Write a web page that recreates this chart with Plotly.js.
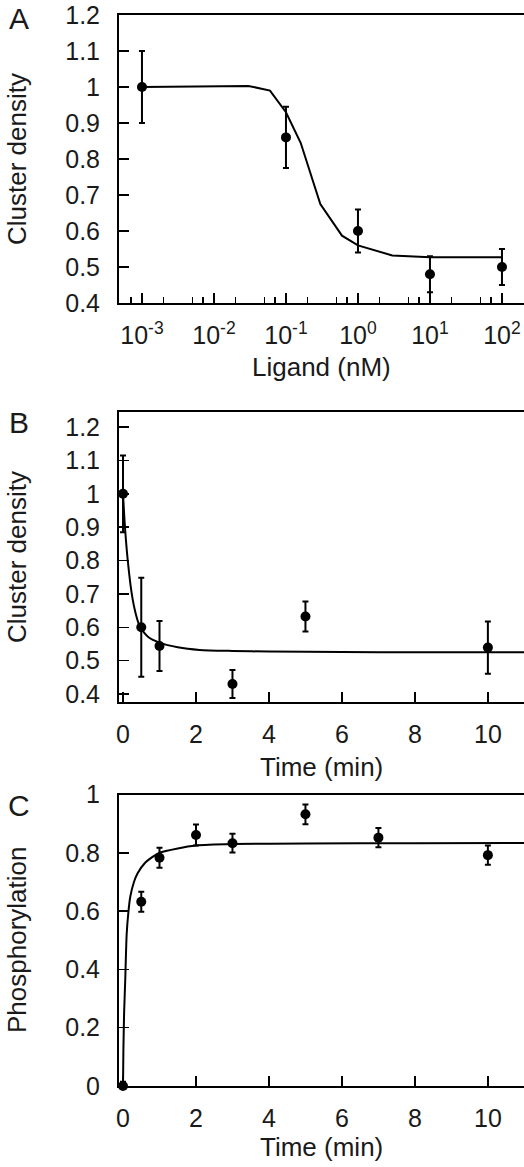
<!DOCTYPE html>
<html>
<head>
<meta charset="utf-8">
<script src="https://cdn.plot.ly/plotly-3.0.1.min.js"></script>
<style>
html,body{margin:0;padding:0;background:#fff;overflow:hidden;}
#chart{width:524px;height:1167px;}
</style>
</head>
<body>
<div id="chart"></div>
<script>
// ---------- Panel A: cluster density vs ligand ----------
const ligandConc = [0.001, 0.1, 1, 10, 100];
const densityA = [1.0, 0.86, 0.60, 0.48, 0.50];
const densityAErr = [0.10, 0.085, 0.06, 0.05, 0.05];
const fitAConc = [0.001, 0.03, 0.06, 0.1, 0.16, 0.3, 0.6, 1, 3, 10, 100];
const fitADensity = [1.0, 1.003, 0.99, 0.93, 0.845, 0.675, 0.587, 0.56, 0.532, 0.527, 0.527];
const ligandTickVals = [0.001, 0.01, 0.1, 1, 10, 100];
const ligandTickText = ['10<sup>-3</sup>', '10<sup>-2</sup>', '10<sup>-1</sup>', '10<sup>0</sup>', '10<sup>1</sup>', '10<sup>2</sup>'];
const ligandMinorTicks = [0.0007, 0.002, 0.005, 0.007, 0.02, 0.05, 0.07, 0.2, 0.5, 0.7, 2, 5, 7, 20, 50, 70];
const densityTicks = [0.4, 0.5, 0.6, 0.7, 0.8, 0.9, 1, 1.1, 1.2];
const densityTickText = ['0.4', '0.5', '0.6', '0.7', '0.8', '0.9', '1', '1.1', '1.2'];

// ---------- Panel B: cluster density vs time ----------
const timeB = [0, 0.5, 1, 3, 5, 10];
const densityB = [1.0, 0.60, 0.544, 0.43, 0.632, 0.539];
const densityBErr = [0.115, 0.148, 0.075, 0.042, 0.045, 0.078];
const fitBTime = [0, 0.03, 0.06, 0.13, 0.24, 0.35, 0.47, 0.7, 1.0, 1.5, 2.1, 3, 4, 6, 8, 11];
const fitBDensity = [1.0, 0.94, 0.89, 0.80, 0.70, 0.64, 0.60, 0.57, 0.554, 0.54, 0.532, 0.529, 0.527, 0.526, 0.525, 0.525];

// ---------- Panel C: phosphorylation vs time ----------
const timeC = [0, 0.5, 1, 2, 3, 5, 7, 10];
const phosC = [0.0, 0.632, 0.783, 0.861, 0.833, 0.932, 0.852, 0.792];
const phosCErr = [0.015, 0.034, 0.034, 0.036, 0.032, 0.034, 0.033, 0.033];
const fitCTime = [0, 0.01, 0.03, 0.06, 0.1, 0.15, 0.2, 0.3, 0.4, 0.6, 0.8, 1.0, 1.5, 2, 3, 5, 8, 11];
const fitCPhos = [0, 0.12, 0.25, 0.36, 0.52, 0.60, 0.65, 0.70, 0.73, 0.765, 0.785, 0.80, 0.815, 0.825, 0.83, 0.832, 0.833, 0.834];
const phosTicks = [0, 0.2, 0.4, 0.6, 0.8, 1];
const phosTickText = ['0', '0.2', '0.4', '0.6', '0.8', '1'];

const timeTicks = [0, 2, 4, 6, 8, 10];

const W = 524, H = 1167;
const FONT = 'Liberation Sans, Arial, sans-serif';
const TXT = '#1a1a1a';
const px = v => v / W;
const py = v => 1 - v / H;

function pts(x, y, err, xa, ya) {
  return {
    x: x, y: y, xaxis: xa, yaxis: ya, type: 'scatter', mode: 'markers',
    marker: {color: '#000', size: 10},
    error_y: {type: 'data', array: err, visible: true, color: '#000', thickness: 2, width: 3},
    cliponaxis: false, hoverinfo: 'skip'
  };
}
function fit(x, y, xa, ya, shape) {
  return {
    x: x, y: y, xaxis: xa, yaxis: ya, type: 'scatter', mode: 'lines',
    line: {color: '#000', width: 2, shape: shape, smoothing: 0.6}, hoverinfo: 'skip'
  };
}

const data = [
  fit(fitAConc, fitADensity, 'x', 'y', 'linear'),
  pts(ligandConc, densityA, densityAErr, 'x', 'y'),
  fit(fitBTime, fitBDensity, 'x2', 'y2', 'spline'),
  pts(timeB, densityB, densityBErr, 'x2', 'y2'),
  fit(fitCTime, fitCPhos, 'x3', 'y3', 'spline'),
  pts(timeC, phosC, phosCErr, 'x3', 'y3')
];

const tickFont = {family: FONT, size: 25, color: TXT};
const axBase = {
  showgrid: false, zeroline: false, showline: true, linecolor: '#000', linewidth: 2,
  ticks: 'inside', tickcolor: '#000', tickwidth: 1.5, ticklen: 10,
  tickfont: tickFont, fixedrange: true, ticklabeloverflow: 'allow'
};

const layout = {
  width: W, height: H,
  margin: {l: 0, r: 0, t: 0, b: 0},
  paper_bgcolor: '#fff', plot_bgcolor: '#fff',
  showlegend: false,
  xaxis: Object.assign({}, axBase, {
    type: 'log', range: [-3.319, 2.306], domain: [px(119), 1], anchor: 'y',
    tickmode: 'array', tickvals: ligandTickVals, ticktext: ligandTickText,
    mirror: true, ticklabelstandoff: 9,
    minor: {tickmode: 'array', tickvals: ligandMinorTicks, ticks: 'inside', ticklen: 6, tickwidth: 1.5, tickcolor: '#000'}
  }),
  yaxis: Object.assign({}, axBase, {
    range: [0.4, 1.2], domain: [py(303), py(15)], anchor: 'x',
    tickmode: 'array', tickvals: densityTicks, ticktext: densityTickText, ticklabelstandoff: 12
  }),
  xaxis2: Object.assign({}, axBase, {
    range: [-0.11, 10.99], domain: [px(119), 1], anchor: 'y2',
    tickmode: 'array', tickvals: timeTicks, mirror: true, ticklabelstandoff: 9
  }),
  yaxis2: Object.assign({}, axBase, {
    range: [0.376, 1.245], domain: [py(702), py(412)], anchor: 'x2',
    tickmode: 'array', tickvals: densityTicks, ticktext: densityTickText, ticklabelstandoff: 12
  }),
  xaxis3: Object.assign({}, axBase, {
    range: [-0.11, 10.99], domain: [px(119), 1], anchor: 'y3',
    tickmode: 'array', tickvals: timeTicks, mirror: true, ticklabelstandoff: 9
  }),
  yaxis3: Object.assign({}, axBase, {
    range: [0, 1], domain: [py(1086), py(794.5)], anchor: 'x3',
    tickmode: 'array', tickvals: phosTicks, ticktext: phosTickText, ticklabelstandoff: 12
  }),
  annotations: [
    {text: 'A', x: px(19), y: py(19)},
    {text: 'B', x: px(19), y: py(423)},
    {text: 'C', x: px(19), y: py(805)}
  ].map(a => Object.assign({xref: 'paper', yref: 'paper', xanchor: 'center', yanchor: 'middle', showarrow: false,
    font: {family: FONT, size: 30, color: TXT}}, a)).concat([
    {text: 'Ligand (nM)', x: px(321.5), y: py(367)},
    {text: 'Time (min)', x: px(321.5), y: py(767)},
    {text: 'Time (min)', x: px(321.5), y: py(1147)},
    {text: 'Cluster density', x: px(17), y: py(159), textangle: -90},
    {text: 'Cluster density', x: px(17), y: py(557), textangle: -90},
    {text: 'Phosphorylation', x: px(17), y: py(940), textangle: -90}
  ].map(a => Object.assign({xref: 'paper', yref: 'paper', xanchor: 'center', yanchor: 'middle', showarrow: false,
    font: {family: FONT, size: 26, color: TXT}}, a)))
};

Plotly.newPlot('chart', data, layout, {staticPlot: true, displayModeBar: false});
</script>
</body>
</html>
